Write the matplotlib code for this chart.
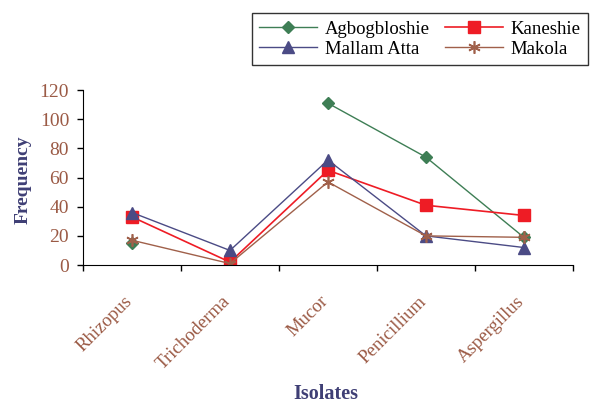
import numpy as np
import matplotlib
matplotlib.use("Agg")
import matplotlib.pyplot as plt
import matplotlib.transforms as mtransforms

isolates = ["Rhizopus", "Trichoderma", "Mucor", "Penicillium", "Aspergillus"]
agbogbloshie = [15, np.nan, 111, 74, 19]
kaneshie = [33, 2, 65, 41, 34]
mallam_atta = [36, 10, 72, 20, 12]
makola = [17, 1, 57, 20, 19]
yticks = [0, 20, 40, 60, 80, 100, 120]

plt.rcParams['font.family'] = ['Liberation Serif', 'DejaVu Serif']

tick_col = '#9B5A45'
lab_col = '#3F3F75'

fig = plt.figure(figsize=(5.9, 4.04), dpi=100)
ax = fig.add_axes([0.1407, 0.344, 0.971 - 0.1407, 0.777 - 0.344])
x = np.arange(1, len(isolates) + 1)

l1, = ax.plot(x, agbogbloshie, color='#3E7E55', marker='D', ms=6, lw=1, label='Agbogbloshie')
l2, = ax.plot(x, kaneshie, color='#EE1C25', marker='s', ms=8, lw=1.2, label='Kaneshie')
l3, = ax.plot(x, mallam_atta, color='#4B4B85', marker='^', ms=8, lw=1, label='Mallam Atta')
l4, = ax.plot(x, makola, color='#A0604A', marker=(6, 2, 0), ms=9, mew=1.2, lw=1, label='Makola')

ax.set_xlim(0.5, len(isolates) + 0.5)
ax.set_ylim(0, 120)
ax.set_yticks(yticks)
ax.set_yticklabels([str(v) for v in yticks], color=tick_col, fontsize=14)
ax.set_xticks(np.arange(0.5, len(isolates) + 1, 1))
ax.set_xticklabels([])
ax.set_xticks(x, minor=True)
ax.set_xticklabels(isolates, minor=True, rotation=45, ha='right', va='top',
                   rotation_mode='anchor', color=tick_col, fontsize=13.5)
ax.tick_params(axis='x', which='minor', length=0, pad=20)
ax.tick_params(axis='both', which='major', direction='out', length=4, width=1)
ax.tick_params(axis='y', which='major', pad=6)
shift = mtransforms.ScaledTranslation(-8 / 100, 0, fig.dpi_scale_trans)
for lab in ax.get_xticklabels(minor=True):
    lab.set_transform(lab.get_transform() + shift)
ax.spines['top'].set_visible(False)
ax.spines['right'].set_visible(False)

fig.text(23 / 590, 1 - 180 / 404, 'Frequency', color=lab_col, fontsize=14, fontweight='bold',
         rotation=90, ha='center', va='center')
fig.text(326 / 590, 1 - 394 / 404, 'Isolates', color=lab_col, fontsize=14.5, fontweight='bold',
         ha='center', va='center')

leg = fig.legend([l1, l3, l2, l4], ['Agbogbloshie', 'Mallam Atta', 'Kaneshie', 'Makola'],
                 ncol=2, loc='upper right', bbox_to_anchor=(588 / 590, 1 - 13 / 404),
                 fontsize=13.5, frameon=True, fancybox=False, edgecolor='black',
                 handlelength=3.1, columnspacing=0.8, labelspacing=0.15,
                 borderpad=0.4, handletextpad=0.4, borderaxespad=0)
leg.get_frame().set_linewidth(1)

fig.savefig('out.png', dpi=100)
